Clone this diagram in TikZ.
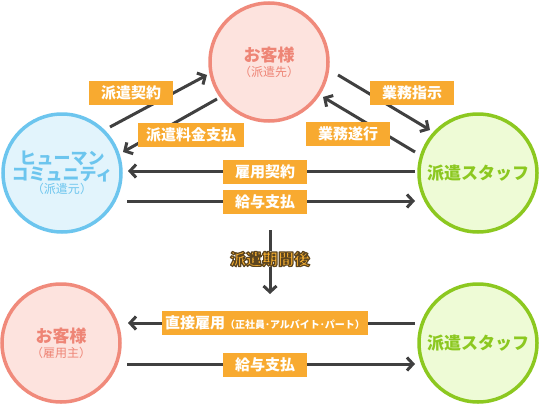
\documentclass[tikz,border=0pt]{standalone}
\usepackage{fontspec}
\setmainfont{Noto Sans CJK JP}
\usetikzlibrary{arrows.meta,calc}
\definecolor{arrowgray}{HTML}{404040}
\definecolor{lab}{HTML}{F8AA30}
\definecolor{pinkfill}{HTML}{FDE3DE}
\definecolor{pinkline}{HTML}{F08A7B}
\definecolor{pinktext}{HTML}{EE8576}
\definecolor{bluefill}{HTML}{E2F4FC}
\definecolor{blueline}{HTML}{6CC5EE}
\definecolor{greenfill}{HTML}{EEFBD6}
\definecolor{greenline}{HTML}{8CC820}
\definecolor{korange}{HTML}{F8B030}
\newcommand{\bigt}{\fontsize{17}{20}\selectfont\bfseries}
\newcommand{\smallt}{\fontsize{12}{14}\selectfont}
\newcommand{\outlined}[1]{\special{pdf:code q 2 Tr 1.2 w 1 j 0.36 0.27 0.12 RG}#1\special{pdf:code Q}}
\tikzset{
  party/.style={circle, minimum size=118pt, line width=3.5pt, inner sep=0pt, align=center},
  pinkc/.style={party, draw=pinkline, fill=pinkfill, text=pinktext},
  bluec/.style={party, draw=blueline, fill=bluefill, text=blueline},
  greenc/.style={party, draw=greenline, fill=greenfill, text=greenline},
  arr/.style={draw=arrowgray, line width=3pt, -{Straight Barb[length=6pt,width=13pt]}},
  lbl/.style={fill=lab, text=white, font=\fontsize{15}{15}\selectfont\bfseries,
              minimum width=84pt, minimum height=24pt, inner sep=0pt},
  ktext/.style={text=korange, fill=white, font=\fontsize{16}{16}\selectfont\bfseries, inner sep=0.5pt}
}
\begin{document}
\begin{tikzpicture}[x=1pt,y=-1pt]
\useasboundingbox (0,0) rectangle (540,404);
% circles
\node[pinkc] (T) at (269,62) {{\bigt お客様}\\[3pt]{\smallt （派遣先）}};
\node[bluec] (L) at (62,173) {{\bigt ヒューマン}\\[0pt]{\bigt コミュニティ}\\[1pt]{\smallt （派遣元）}};
\node[greenc] (R) at (478,173) {\bigt 派遣スタッフ};
\node[pinkc] (BL) at (61,343) {{\bigt お客様}\\[3pt]{\smallt （雇用主）}};
\node[greenc] (BR) at (478,343) {\bigt 派遣スタッフ};
% arrows
\draw[arr] ($(L)+(48,-46)$) -- ($(T)+(-62,13)$);
\draw[arr] ($(T)+(-52,37)$) -- ($(L)+(61,-21)$);
\draw[arr] ($(T)+(69,13)$) -- ($(R)+(-48,-43)$);
\draw[arr] ($(R)+(-63,-21)$) -- ($(T)+(54,35)$);
\draw[arr] ($(R)+(-63,-2)$) -- ($(L)+(66,-2)$);
\draw[arr] ($(L)+(65,28)$) -- ($(R)+(-63,28)$);
\draw[arr] ($(BR)+(-63,-20)$) -- ($(BL)+(67,-20)$);
\draw[arr] ($(BL)+(66,21)$) -- ($(BR)+(-63,21)$);
\coordinate (V1) at (270,230);
\coordinate (V2) at (270,294);
\draw[arr] (V1) -- (V2);
% labels
\node[lbl] (l1) at (131,92.5) {派遣契約};
\node[lbl, minimum width=106pt] (l2) at (191,134.5) {派遣料金支払};
\node[lbl] (l3) at (412,92.5) {業務指示};
\node[lbl] (l4) at (348,133.5) {業務遂行};
\node[lbl] (l5) at (265,171.5) {雇用契約};
\node[lbl] (l6) at (265,201.5) {給与支払};
\node[lbl, minimum width=206pt] (l7) at (265,323) {直接雇用{\fontsize{10}{10}\selectfont （正社員･アルバイト･パート）}};
\node[lbl] (l8) at (265,364.5) {給与支払};
% outlined text
\node[ktext] (K) at (270,259) {\outlined{派遣期間後}};
\end{tikzpicture}
\end{document}
